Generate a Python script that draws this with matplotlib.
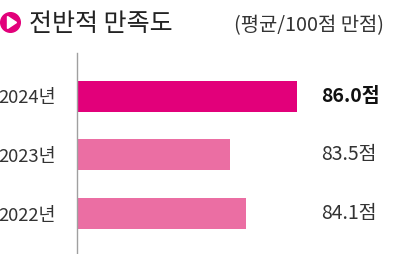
import matplotlib
matplotlib.use("Agg")
import matplotlib.pyplot as plt
from matplotlib.patches import Circle, Polygon

plt.rcParams['font.family'] = ['Noto Sans CJK KR', 'DejaVu Sans']

title = "전반적 만족도"
subtitle = "(평균/100점 만점)"
years = ["2022년", "2023년", "2024년"]
values = [84.1, 83.5, 86.0]
value_labels = ["84.1점", "83.5점", "86.0점"]
colors = ["#EB6EA3", "#EB6EA3", "#E2007A"]

W, H = 400, 254
fig = plt.figure(figsize=(W / 100, H / 100), dpi=100)

def fx(px):
    return px / W

def fy(py):
    return 1 - py / H

ax_left, ax_right, ax_top, ax_bottom = 77, 400, 53, 254
ax = fig.add_axes([fx(ax_left), fy(ax_bottom), fx(ax_right - ax_left), fy(ax_top) - fy(ax_bottom)])

x0 = 77.83
px_per_pt = 26.9
ax.set_xlim(x0, x0 + (ax_right - ax_left) / px_per_pt)
ax.set_ylim(-0.69, 2.74)

ypos = list(range(len(years)))
ax.barh(ypos, values, left=0, height=0.53, color=colors)

for s in ["top", "right", "bottom"]:
    ax.spines[s].set_visible(False)
ax.spines["left"].set_color("#A0A0A0")
ax.spines["left"].set_linewidth(1.0)
ax.set_xticks([])
ax.set_yticks(ypos)
ax.set_yticklabels(years, fontsize=13.3, color="#333333")
ax.tick_params(axis="y", length=0, pad=15)

for i, (y, lab) in enumerate(zip(ypos, value_labels)):
    bold = i == len(values) - 1
    ax.text(x0 + (321 - ax_left) / px_per_pt, y, lab, ha="left", va="center",
            fontsize=14, color="#111111" if bold else "#333333",
            fontweight="bold" if bold else "normal")

# title icon
icon_ax = fig.add_axes([0, 0, 1, 1], facecolor="none")
icon_ax.set_xlim(0, W)
icon_ax.set_ylim(H, 0)
icon_ax.axis("off")
icon_ax.add_patch(Circle((10.5, 22.5), 9.8, color="#E2007A"))
icon_ax.add_patch(Polygon([(7.5, 16.5), (7.5, 28.5), (16.5, 22.5)], closed=True, color="white"))

fig.text(fx(29), fy(24), title, ha="left", va="center", fontsize=18, color="#222222")
fig.text(fx(384), fy(26), subtitle, ha="right", va="center", fontsize=14.3, color="#333333")

fig.savefig("out.png", dpi=100)
